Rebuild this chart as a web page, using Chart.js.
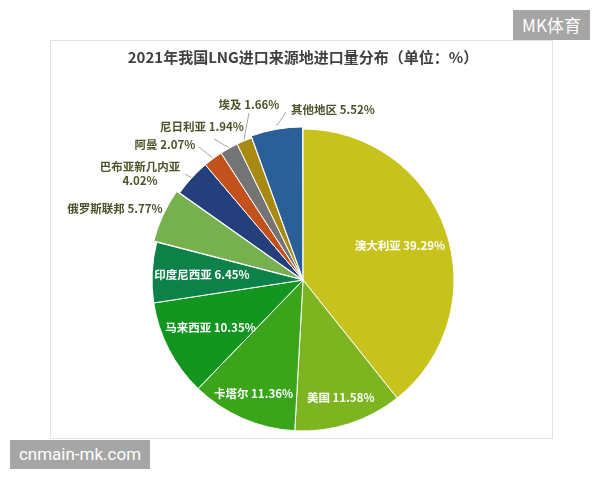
<!DOCTYPE html>
<html>
<head>
<meta charset="utf-8">
<script src="https://cdn.jsdelivr.net/npm/chart.js@4/dist/chart.umd.min.js"></script>
<style>
  html, body { margin: 0; padding: 0; background: #fff; }
  #wrap { position: relative; width: 600px; height: 480px; overflow: hidden; }
  #frame { position: absolute; left: 50px; top: 40px; width: 501px; height: 397px; border: 1px solid #e2e2e2; }
  #chart { position: absolute; left: 0; top: 0; }
  .mark { position: absolute; background: #a6a6a6; color: #fff; font-family: Roboto, "Noto Sans", sans-serif; font-size: 17px; line-height: 30px; text-align: center; }
  #mk { left: 513px; top: 10px; width: 77px; height: 30px; font-family: "Noto Sans CJK SC", sans-serif; }
  #site { left: 10px; top: 440px; width: 140px; height: 29px; line-height: 29px; }
</style>
</head>
<body>
<div id="wrap">
  <div id="frame"></div>
  <canvas id="chart" width="600" height="480"></canvas>
  <div class="mark" id="mk">MK体育</div>
  <div class="mark" id="site">cnmain-mk.com</div>
</div>
<script>
var TITLE = '2021年我国LNG进口来源地进口量分布（单位：%）';
var COUNTRIES = ['澳大利亚', '美国', '卡塔尔', '马来西亚', '印度尼西亚', '俄罗斯联邦',
  '巴布亚新几内亚', '阿曼', '尼日利亚', '埃及', '其他地区'];
var SHARES = [39.29, 11.58, 11.36, 10.35, 6.45, 5.77, 4.02, 2.07, 1.94, 1.66, 5.52];
var COLORS = ['#c8c21c', '#7cb520', '#3aa51b', '#12961f', '#0c8148', '#77b14f',
  '#253f7c', '#c2511b', '#747474', '#a88a12', '#2b5f98'];
var OFFSETS = [0, 0, 0, 0, 0, 8, 0, 0, 0, 0, 5];

// label placement: inside labels sit on the slice's mid angle at a fraction of the radius,
// outside labels are placed next to the pie with a leader line back to the slice edge
var LABELS = [
  { inside: true, r: 0.68 },
  { inside: true, r: 0.82 },
  { inside: true, r: 0.82 },
  { inside: true, r: 0.69 },
  { inside: true, r: 0.67 },
  { x: 115, y: 209 },
  { x: 140, y: 167, lines: 2, lead: [185, 174] },
  { x: 165, y: 145, lead: [199, 147] },
  { x: 202, y: 127, lead: [214, 139] },
  { x: 249, y: 105, lead: [249, 113] },
  { x: 333, y: 110, lead: [286, 112], bend: [278, 124] }
];

var labelPlugin = {
  id: 'sliceLabels',
  afterDatasetsDraw: function (chart) {
    var ctx = chart.ctx;
    var meta = chart.getDatasetMeta(0);
    var fontFamily = '"Noto Sans CJK SC", "Microsoft YaHei", sans-serif';
    meta.data.forEach(function (arc, i) {
      var cfg = LABELS[i];
      var p = arc.getProps(['x', 'y', 'startAngle', 'endAngle', 'outerRadius'], true);
      var mid = (p.startAngle + p.endAngle) / 2;
      var off = OFFSETS[i];
      var cx = p.x + Math.cos(mid) * off;
      var cy = p.y + Math.sin(mid) * off;
      var text = COUNTRIES[i] + ' ' + SHARES[i].toFixed(2) + '%';
      ctx.save();
      ctx.font = 'bold 11.5px ' + fontFamily;
      ctx.textAlign = 'center';
      ctx.textBaseline = 'middle';
      if (cfg.inside) {
        ctx.fillStyle = '#ffffff';
        ctx.fillText(text, cx + Math.cos(mid) * p.outerRadius * cfg.r, cy + Math.sin(mid) * p.outerRadius * cfg.r);
      } else {
        if (cfg.lead) {
          var ex = cx + Math.cos(mid) * (p.outerRadius + 1);
          var ey = cy + Math.sin(mid) * (p.outerRadius + 1);
          ctx.strokeStyle = '#a6a6a6';
          ctx.lineWidth = 1;
          ctx.beginPath();
          ctx.moveTo(cfg.lead[0], cfg.lead[1]);
          if (cfg.bend) ctx.lineTo(cfg.bend[0], cfg.bend[1]);
          ctx.lineTo(ex, ey);
          ctx.stroke();
        }
        ctx.fillStyle = '#4a5428';
        if (cfg.lines === 2) {
          ctx.fillText(COUNTRIES[i], cfg.x, cfg.y);
          ctx.fillText(SHARES[i].toFixed(2) + '%', cfg.x, cfg.y + 14);
        } else {
          ctx.fillText(text, cfg.x, cfg.y);
        }
      }
      ctx.restore();
    });
  }
};

new Chart(document.getElementById('chart').getContext('2d'), {
  type: 'pie',
  data: {
    labels: COUNTRIES,
    datasets: [{
      data: SHARES,
      backgroundColor: COLORS,
      borderColor: '#ffffff',
      borderWidth: 1,
      offset: OFFSETS,
      radius: 151
    }]
  },
  options: {
    responsive: false,
    animation: false,
    events: [],
    layout: { padding: { left: 106, right: 100, top: 0, bottom: 20 } },
    plugins: {
      legend: { display: false },
      tooltip: { enabled: false },
      title: {
        display: true,
        text: TITLE,
        color: '#404040',
        font: { family: '"Noto Sans CJK SC", "Microsoft YaHei", sans-serif', size: 15, weight: 'bold', lineHeight: 1.2 },
        padding: { top: 48, bottom: 34 }
      }
    }
  },
  plugins: [labelPlugin]
});
</script>
</body>
</html>
